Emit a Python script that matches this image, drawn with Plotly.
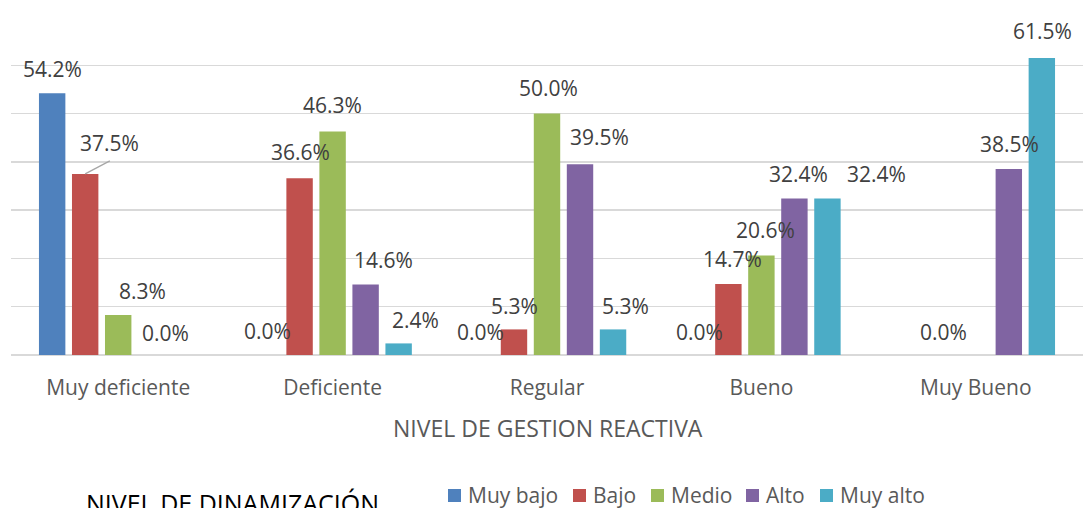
import plotly.graph_objects as go

categories = ["Muy deficiente", "Deficiente", "Regular", "Bueno", "Muy Bueno"]
series_names = ["Muy bajo", "Bajo", "Medio", "Alto", "Muy alto"]
muy_bajo = [54.2, 0.0, 0.0, 0.0, None]
bajo = [37.5, 36.6, 5.3, 14.7, 0.0]
medio = [8.3, 46.3, 50.0, 20.6, None]
alto = [0.0, 14.6, 39.5, 32.4, 38.5]
muy_alto = [None, 2.4, 5.3, 32.4, 61.5]
series_values = [muy_bajo, bajo, medio, alto, muy_alto]

colors = ["#4F81BD", "#C0504D", "#9BBB59", "#8064A2", "#4BACC6"]

# label nudges in pixels (style only), per series, per category
label_dx = [
    [0, 1, 0, 4, 0],
    [24, 1, 1, 4, 1],
    [24, 0, 1, 4, 0],
    [14, 18, 19, 4, 1],
    [0, 17, 12, 49, 1],
]
label_dy = [
    [24, 24, 23, 23, 0],
    [31, 26, 23, 25, 23],
    [24, 26, 26, 26, 0],
    [22, 25, 27, 25, 25],
    [0, 23, 23, 25, 27],
]

# plot-area geometry in pixels
W, H = 1083, 508
ML, MR, MT, MB = 11, 0, 16, 153
PW, PH = W - ML - MR, H - MT - MB
Y_MAX = 70.2  # small headroom so the 70 gridline is drawn


def px_x(px):
    return (px - ML) / PW


def px_y(py):
    return (H - MB - py) / PH


BARGAP = 0.23
slot = (1 - BARGAP) / len(series_names)

fig = go.Figure()
for name, vals, col in zip(series_names, series_values, colors):
    fig.add_trace(go.Bar(
        name=name, x=categories, y=vals, marker_color=col,
        marker_line_width=0, hoverinfo="skip", showlegend=False,
    ))

annotations = []
for si, vals in enumerate(series_values):
    for ci, v in enumerate(vals):
        if v is None:
            continue
        annotations.append(dict(
            x=ci + (si - 2) * slot, y=v, xref="x", yref="y",
            text=f"{v:.1f}%", showarrow=False,
            xshift=label_dx[si][ci], yshift=label_dy[si][ci],
            xanchor="center", yanchor="middle",
            font=dict(family="Open Sans", size=21, color="#404040"),
        ))

shapes = []
# leader line for the displaced "Bajo / Muy deficiente" label
shapes.append(dict(type="line", xref="x", yref="y",
                   x0=(1 - 2) * slot, y0=bajo[0],
                   x1=(1 - 2) * slot + 0.115, y1=bajo[0] + 2.7,
                   line=dict(color="#A6A6A6", width=1.3)))

# custom legend (square + text), positions in pixels
legend_left_px = [448, 573, 651, 746, 820]
for name, col, lx in zip(series_names, colors, legend_left_px):
    shapes.append(dict(type="rect", xref="paper", yref="paper",
                       x0=px_x(lx), x1=px_x(lx + 13),
                       y0=px_y(502), y1=px_y(489),
                       fillcolor=col, line=dict(width=0)))
    annotations.append(dict(
        x=px_x(lx + 18), y=px_y(495), xref="paper", yref="paper",
        text=name, showarrow=False, xanchor="left", yanchor="middle",
        font=dict(family="Open Sans", size=21, color="#595959"),
    ))

annotations.append(dict(
    x=px_x(548), y=px_y(428), xref="paper", yref="paper",
    text="NIVEL DE GESTION REACTIVA", showarrow=False,
    xanchor="center", yanchor="middle",
    font=dict(family="Open Sans", size=23, color="#595959"),
))
annotations.append(dict(
    x=px_x(232), y=px_y(503), xref="paper", yref="paper",
    text="NIVEL DE DINAMIZACIÓN", showarrow=False,
    xanchor="center", yanchor="middle",
    font=dict(family="Open Sans", size=25, color="#000000"),
))

fig.update_layout(
    width=W, height=H,
    margin=dict(l=ML, r=MR, t=MT, b=MB, autoexpand=False),
    paper_bgcolor="white", plot_bgcolor="white",
    barmode="group", bargap=BARGAP, bargroupgap=0.2,
    annotations=annotations, shapes=shapes,
    showlegend=False,
    xaxis=dict(
        type="category", showgrid=False, showline=False, zeroline=False,
        automargin=False,
        ticks="outside", ticklen=14, tickcolor="rgba(0,0,0,0)",
        tickfont=dict(family="Open Sans", size=21, color="#595959"),
    ),
    yaxis=dict(
        range=[0, Y_MAX], dtick=10, showticklabels=False, automargin=False,
        showgrid=True, gridcolor="#D9D9D9", gridwidth=1.5,
        zeroline=True, zerolinecolor="#D9D9D9", zerolinewidth=1.5,
        showline=False,
    ),
)

fig.write_html(
    "out.html",
    config={"displayModeBar": False, "staticPlot": True},
    post_script="document.body.style.margin='0px';"
                "document.body.style.overflow='hidden';",
)
